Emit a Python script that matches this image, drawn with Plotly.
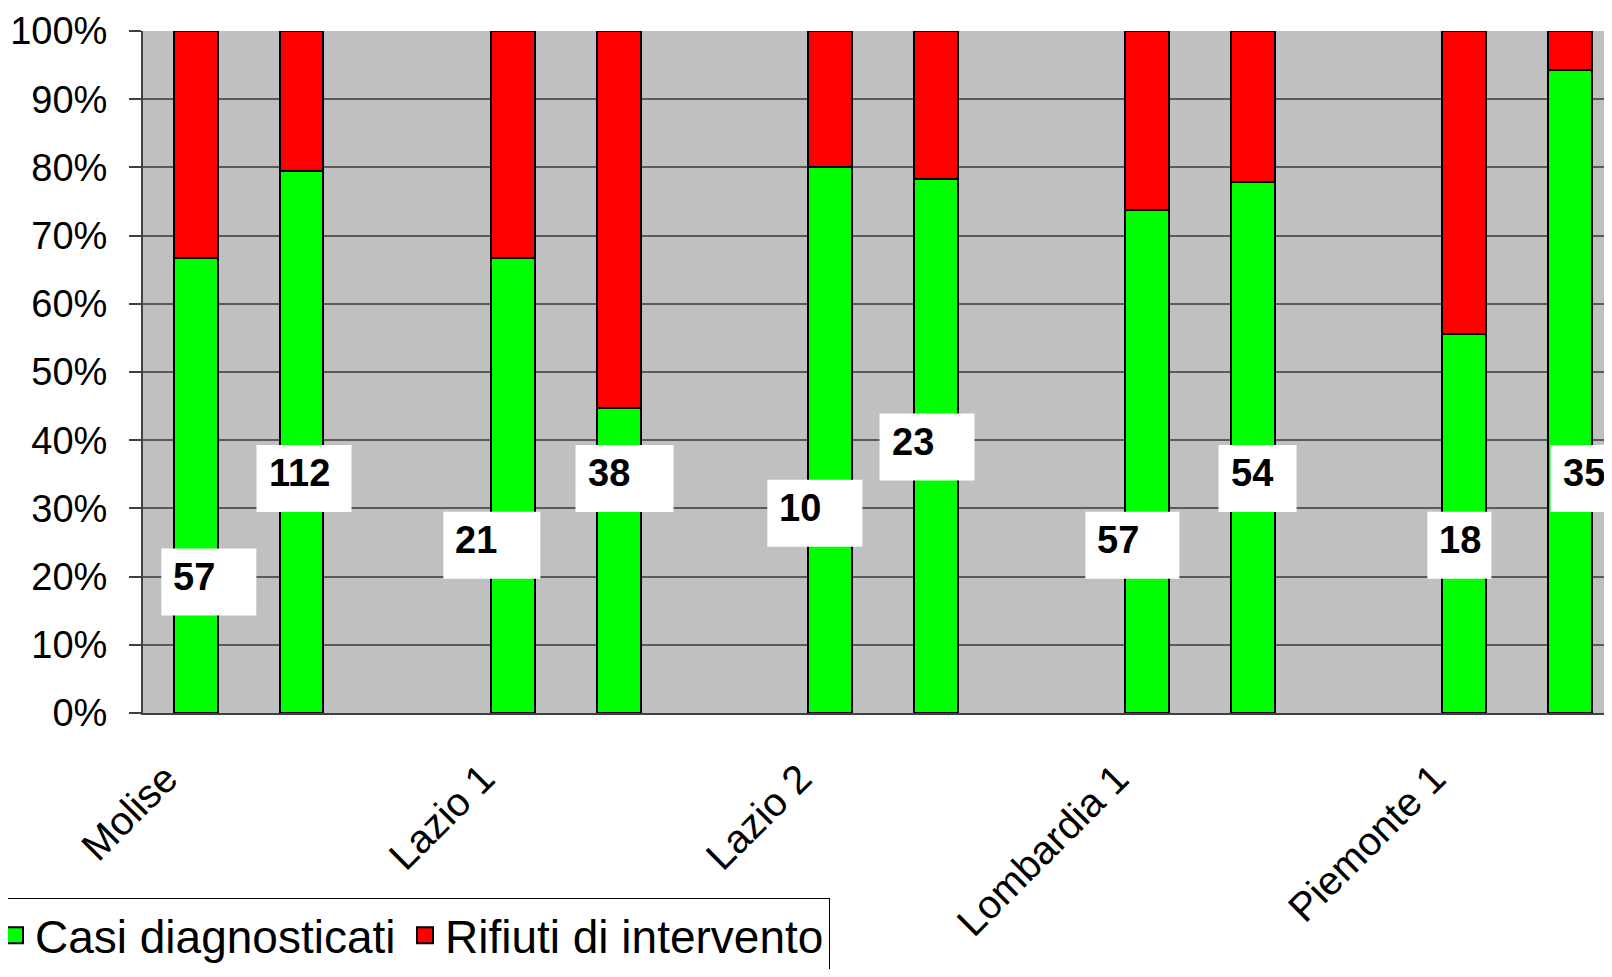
import plotly.graph_objects as go

# ---- data ----
centri = ["Molise", "Lazio 1", "Lazio 2", "Lombardia 1", "Piemonte 1"]
posizioni = [0, 1, 3, 4, 6, 7, 9, 10, 12, 13]           # slot index of each bar
casi_pct = [66.7, 79.5, 66.7, 44.7, 80.0, 78.3, 73.7, 77.8, 55.6, 94.3]
rifiuti_pct = [33.3, 20.5, 33.3, 55.3, 20.0, 21.7, 26.3, 22.2, 44.4, 5.7]
etichette = ["57", "112", "21", "38", "10", "23", "57", "54", "18", "35"]
etichette_y = [19.2, 34.4, 24.6, 34.4, 29.3, 39.0, 24.6, 34.4, 24.6, 34.4]
y_ticks = [0, 10, 20, 30, 40, 50, 60, 70, 80, 90, 100]

# ---- label box layout (pixels) ----
box_shift = [-34.5, -45, -69.5, -43, -62.5, -56, -61.5, -34, -36.5, -19]
box_w = [95, 95, 97, 98, 95, 95, 94, 78, 64, 80]
BOX_H = 67
TEXT_PAD = 12

FONT = "Liberation Sans, Arial, sans-serif"
GREEN = "#00FF00"
RED = "#FF0000"
BAR_W = 0.416
# page body has an 8px margin: figure sits at (8, 8) in the window
X_RANGE = [-0.5, 13.326]

fig = go.Figure()
fig.add_trace(go.Bar(
    x=posizioni, y=casi_pct, name="Casi diagnosticati", width=BAR_W,
    marker=dict(color=GREEN, line=dict(color="black", width=2.5)),
    hoverinfo="y", legendgroup="casi", showlegend=False,
))
fig.add_trace(go.Bar(
    x=posizioni, y=rifiuti_pct, name="Rifiuti di intervento", width=BAR_W,
    marker=dict(color=RED, line=dict(color="black", width=2.5)),
    hoverinfo="y", legendgroup="rifiuti", showlegend=False,
))
# legend entries (larger square keys)
fig.add_trace(go.Scatter(
    x=[None], y=[None], mode="markers", name="Casi diagnosticati",
    marker=dict(symbol="square", size=16, color=GREEN, line=dict(color="black", width=2)),
    legendgroup="casi", showlegend=True, hoverinfo="skip", legendwidth=365,
))
fig.add_trace(go.Scatter(
    x=[None], y=[None], mode="markers", name="Rifiuti di intervento",
    marker=dict(symbol="square", size=16, color=RED, line=dict(color="black", width=2)),
    legendgroup="rifiuti", showlegend=True, hoverinfo="skip", legendwidth=379,
))

for xp, txt, yy, sh, w in zip(posizioni, etichette, etichette_y, box_shift, box_w):
    fig.add_shape(
        type="rect", xref="x", yref="y",
        xsizemode="pixel", xanchor=xp, x0=sh, x1=sh + w,
        ysizemode="pixel", yanchor=yy, y0=-BOX_H / 2, y1=BOX_H / 2,
        fillcolor="white", line=dict(width=0), layer="above",
    )
    fig.add_annotation(
        x=xp, y=yy, xref="x", yref="y", text="<b>%s</b>" % txt,
        showarrow=False, xanchor="left", yanchor="middle",
        xshift=sh + TEXT_PAD - 1, yshift=5, borderpad=0,
        font=dict(family=FONT, size=38, color="black"),
    )

fig.update_layout(
    width=1596, height=961,
    margin=dict(l=135, r=0, t=23, b=256, autoexpand=False),
    paper_bgcolor="white", plot_bgcolor="#C0C0C0",
    barmode="stack", bargap=0,
    font=dict(family=FONT, color="black"),
    showlegend=True,
    legend=dict(
        orientation="h", x=-0.102, xanchor="left", y=-0.271, yanchor="top",
        font=dict(family=FONT, size=46, color="black"),
        bgcolor="white", bordercolor="black", borderwidth=1,
        entrywidthmode="pixels", traceorder="normal",
    ),
    xaxis=dict(
        range=X_RANGE, tickmode="array", tickvals=[0, 3, 6, 9, 12], ticktext=centri,
        tickangle=-45, ticks="", showgrid=False, zeroline=False,
        showline=True, linecolor="#404040", linewidth=2,
        tickfont=dict(family=FONT, size=40, color="black"),
        ticklabelshift=-30, ticklabelstandoff=24,
    ),
    xaxis2=dict(
        range=X_RANGE, overlaying="x", anchor="y", side="bottom",
        tickmode="array", tickvals=[i - 0.5 for i in range(0, 15)],
        ticks="outside", ticklen=13, tickwidth=1.5, tickcolor="#404040",
        showticklabels=False, showgrid=False, zeroline=False, showline=False,
    ),
    yaxis=dict(
        range=[0, 100], tickmode="array", tickvals=y_ticks,
        ticktext=["%d%%" % v for v in y_ticks],
        ticks="outside", ticklen=12, tickwidth=1.5, tickcolor="#404040",
        showgrid=True, gridcolor="#5A5A5A", gridwidth=1.5, zeroline=False,
        showline=True, linecolor="#404040", linewidth=2,
        tickfont=dict(family=FONT, size=38, color="black"), ticklabelstandoff=14,
    ),
)

fig.write_html("out.html")
